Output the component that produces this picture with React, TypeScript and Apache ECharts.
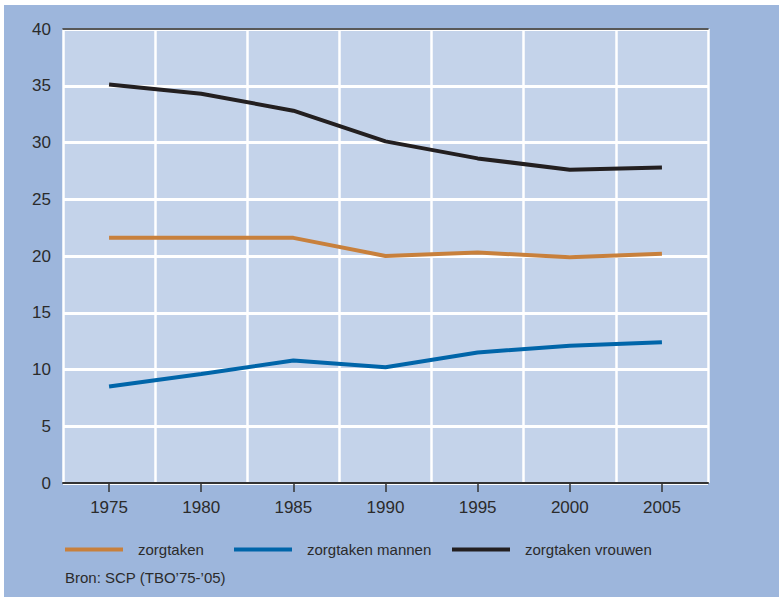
import React, { useEffect, useRef } from "react";
import * as echarts from "echarts";

const years = ["1975", "1980", "1985", "1990", "1995", "2000", "2005"];
const zorgtaken = [21.6, 21.6, 21.6, 20.0, 20.3, 19.9, 20.2];
const zorgtakenMannen = [8.5, 9.6, 10.8, 10.2, 11.5, 12.1, 12.4];
const zorgtakenVrouwen = [35.1, 34.3, 32.8, 30.1, 28.6, 27.6, 27.8];
const seriesNames = ["zorgtaken", "zorgtaken mannen", "zorgtaken vrouwen"];
const seriesColors = ["#c8803c", "#0065a9", "#231f20"];
const sourceText = "Bron: SCP (TBO\u201975-\u201905)";

const FONT = "'Liberation Sans', Arial, sans-serif";
const TEXT = "#2b2b2b";

export default function App() {
  const ref = useRef<HTMLDivElement>(null);
  useEffect(() => {
    if (!ref.current) return;
    const chart = echarts.init(ref.current, null, { renderer: "svg" });
    const values = [zorgtaken, zorgtakenMannen, zorgtakenVrouwen];
    const legendLefts = [56, 225, 443];
    chart.setOption({
      animation: false,
      backgroundColor: "#9db6dc",
      textStyle: { fontFamily: FONT },
      grid: {
        left: 59,
        top: 24,
        width: 645,
        height: 454,
        show: true,
        backgroundColor: "#c4d3ea",
        borderWidth: 0,
      },
      legend: seriesNames.map((n, i) => ({
        data: [n],
        left: legendLefts[i],
        top: 532,
        icon: "rect",
        itemWidth: 58,
        itemHeight: 4,
        itemGap: 0,
        selectedMode: false,
        textStyle: {
          fontFamily: FONT,
          fontSize: 15,
          color: TEXT,
          padding: [0, 0, 0, 10],
        },
      })),
      xAxis: [
        {
          type: "category",
          data: years,
          boundaryGap: true,
          position: "bottom",
          axisLine: { show: true, lineStyle: { color: "#333", width: 2 } },
          axisTick: {
            show: true,
            alignWithLabel: true,
            length: 9,
            lineStyle: { color: "#333", width: 1.5 },
          },
          axisLabel: { fontSize: 17, color: TEXT, margin: 16, fontFamily: FONT },
          splitLine: { show: true, lineStyle: { color: "#ffffff", width: 2.5 } },
        },
        {
          type: "category",
          data: years,
          position: "top",
          axisLine: { show: true, onZero: false, lineStyle: { color: "#222", width: 1.5 } },
          axisTick: { show: false },
          axisLabel: { show: false },
          splitLine: { show: false },
        },
      ],
      yAxis: {
        type: "value",
        min: 0,
        max: 40,
        interval: 5,
        axisLine: { show: false },
        axisTick: { show: false },
        axisLabel: { fontSize: 17, color: TEXT, margin: 12, fontFamily: FONT },
        splitLine: { show: true, lineStyle: { color: "#ffffff", width: 3 } },
      },
      graphic: [
        {
          type: "text",
          left: 61,
          top: 565,
          style: { text: sourceText, font: `15px ${FONT}`, fill: TEXT },
        },
      ],
      series: seriesNames.map((n, i) => ({
        name: n,
        type: "line",
        data: values[i],
        xAxisIndex: 0,
        symbol: "none",
        color: seriesColors[i],
        lineStyle: { width: 4, color: seriesColors[i] },
      })),
    });
    return () => chart.dispose();
  }, []);
  return (
    <div
      style={{
        position: "absolute",
        left: 0,
        top: 0,
        width: 779,
        height: 597,
        background: "#ffffff",
      }}
    >
      <div
        ref={ref}
        style={{ position: "absolute", left: 4, top: 5, width: 775, height: 592 }}
      />
    </div>
  );
}
